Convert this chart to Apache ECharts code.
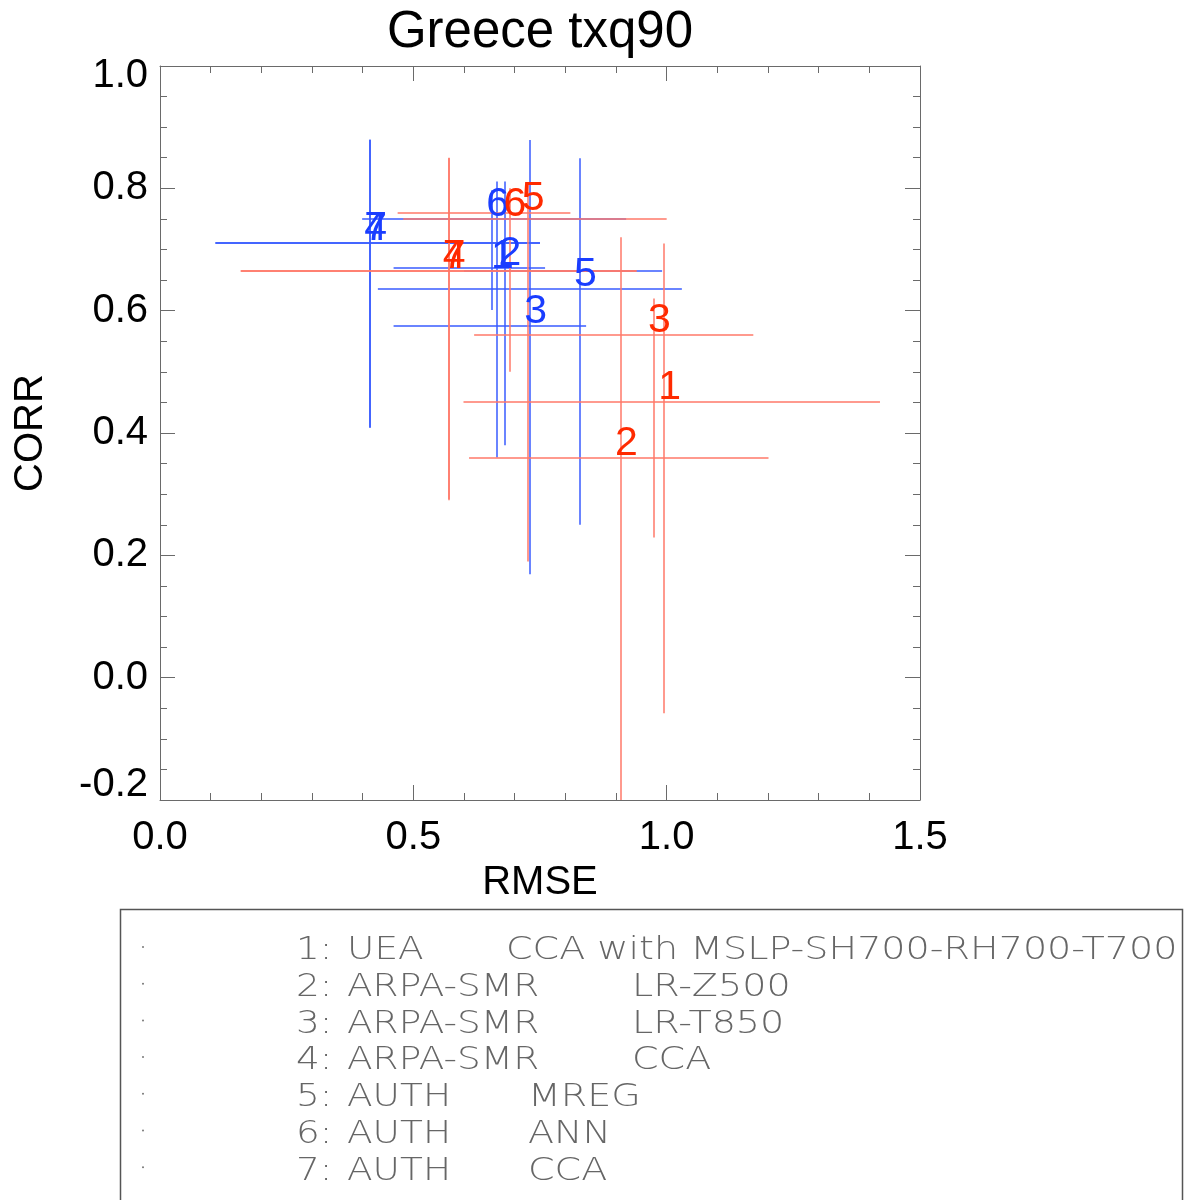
<!DOCTYPE html>
<html>
<head>
<meta charset="utf-8">
<script src="https://cdn.jsdelivr.net/npm/echarts@6/dist/echarts.min.js"></script>
<style>
html,body{margin:0;padding:0;background:#fff;}
#main{width:1189px;height:1200px;}
</style>
</head>
<body>
<div id="main"></div>
<script>
//数据：每个模型的 RMSE / CORR 及其范围
var modelIds = ['1','2','3','4','5','6','7'];
//红色组
var redRmse    = [0.995, 0.910, 0.975, 0.570, 0.726, 0.690, 0.570];
var redCorr    = [0.450, 0.359, 0.560, 0.665, 0.760, 0.750, 0.665];
var redRmseLo  = [0.599, 0.610, 0.620, 0.159, 0.469, 0.480, 0.160];
var redRmseHi  = [1.421, 1.201, 1.171, 0.941, 0.810, 1.000, 0.940];
var redCorrLo  = [-0.058, -0.200, 0.229, 0.290, 0.190, 0.500, 0.292];
var redCorrHi  = [0.710, 0.720, 0.620, 0.849, 0.808, 0.800, 0.850];
//蓝色组
var blueRmse   = [0.665, 0.680, 0.731, 0.415, 0.829, 0.656, 0.415];
var blueCorr   = [0.665, 0.670, 0.575, 0.710, 0.635, 0.750, 0.710];
var blueRmseLo = [0.600, 0.461, 0.461, 0.109, 0.430, 0.399, 0.110];
var blueRmseHi = [0.991, 0.760, 0.841, 0.750, 1.030, 0.920, 0.750];
var blueCorrLo = [0.360, 0.380, 0.169, 0.408, 0.250, 0.601, 0.410];
var blueCorrHi = [0.811, 0.811, 0.879, 0.879, 0.849, 0.797, 0.880];
//图例
var legendInst   = ['UEA', 'ARPA-SMR', 'ARPA-SMR', 'ARPA-SMR', 'AUTH', 'AUTH', 'AUTH'];
var legendMethod = ['CCA with MSLP-SH700-RH700-T700', 'LR-Z500', 'LR-T850', 'CCA', 'MREG', 'ANN', 'CCA'];
var xTicks = [0.0, 0.5, 1.0, 1.5];
var yTicks = [-0.2, 0.0, 0.2, 0.4, 0.6, 0.8, 1.0];

var FONT = '"Liberation Sans", Arial, sans-serif';
var LABEL_FS = 41;

function buildData(x, y, xlo, xhi, ylo, yhi){
	var arr = [];
	for(var i=0;i<x.length;i++){
		arr.push([x[i], y[i], xlo[i], xhi[i], ylo[i], yhi[i], modelIds[i]]);
	}
	return arr;
}

//画十字误差线和编号
function makeRender(lineColor, textColor){
	return function(params, api){
		var p = api.coord([api.value(0), api.value(1)]);
		var l = api.coord([api.value(2), api.value(1)]);
		var r = api.coord([api.value(3), api.value(1)]);
		var t = api.coord([api.value(0), api.value(5)]);
		var b = api.coord([api.value(0), api.value(4)]);
		var px = Math.round(p[0]), py = Math.round(p[1]);
		return {
			type: 'group',
			children: [
				{type:'line', shape:{x1:px, y1:t[1], x2:px, y2:b[1]}, style:{stroke:lineColor, lineWidth:1.5}},
				{type:'line', shape:{x1:l[0], y1:py, x2:r[0], y2:py}, style:{stroke:lineColor, lineWidth:1.5}},
				{type:'text', x:p[0]-6, y:p[1]-0.35*LABEL_FS, z2:10,
					style:{text:String(api.value(6)), fill:textColor, font:LABEL_FS+'px '+FONT, align:'left', verticalAlign:'middle'}}
			]
		};
	};
}

var chart = echarts.init(document.getElementById('main'), null, {renderer:'canvas'});

var axisColor = '#6a6a6a';
function xAxisCfg(pos, showLabel){
	return {
		type:'value', position:pos, min:xTicks[0], max:xTicks[xTicks.length-1], interval:0.5,
		name: showLabel ? 'RMSE' : '', nameLocation:'middle', nameGap:62,
		nameTextStyle:{fontSize:40, color:'#000', fontFamily:FONT},
		axisLine:{show:true, onZero:false, lineStyle:{color:axisColor, width:1}},
		axisTick:{show:true, inside:true, length:15, lineStyle:{color:axisColor}},
		minorTick:{show:true, splitNumber:5, length:7, lineStyle:{color:axisColor}},
		splitLine:{show:false},
		axisLabel:{show:showLabel, margin:18, fontSize:40, color:'#000', fontFamily:FONT,
			formatter:function(v){return v.toFixed(1);}}
	};
}
function yAxisCfg(pos, showLabel){
	var yMin = yTicks[0], yMax = yTicks[yTicks.length-1];
	return {
		type:'value', position:pos, min:yMin, max:yMax, interval:0.2,
		name: showLabel ? 'CORR' : '', nameLocation:'middle', nameGap:109,
		nameTextStyle:{fontSize:40, color:'#000', fontFamily:FONT},
		axisLine:{show:true, onZero:false, lineStyle:{color:axisColor, width:1}},
		axisTick:{show:true, inside:true, length:15, lineStyle:{color:axisColor}},
		minorTick:{show:true, splitNumber:4, length:7, lineStyle:{color:axisColor}},
		splitLine:{show:false},
		axisLabel:{show:showLabel, margin:12, fontSize:40, color:'#000', fontFamily:FONT,
			formatter:function(v){
				var s = v.toFixed(1);
				if(Math.abs(v-yMax)<1e-9) return '{hi|'+s+'}';
				if(Math.abs(v-yMin)<1e-9) return '{lo|'+s+'}';
				return s;
			},
			rich:{
				hi:{fontSize:40, color:'#000', fontFamily:FONT, padding:[19,0,0,0]},
				lo:{fontSize:40, color:'#000', fontFamily:FONT, padding:[0,0,30,0]}
			}}
	};
}

//图例文字
var legendChildren = [];
var methodX = [506, 632, 632, 632, 528, 528, 528];
for(var i=0;i<modelIds.length;i++){
	var yb = 960 + i*36.7;
	var st = {fill:'#666', font:'200 32px "DejaVu Sans", sans-serif', verticalAlign:'bottom'};
	legendChildren.push({type:'circle', shape:{cx:143, cy:yb-13, r:1}, style:{fill:'#777'}});
	legendChildren.push({type:'text', x:296, y:yb+7, scaleX:1.17, style:echarts.util.extend({text:modelIds[i]+':'}, st)});
	legendChildren.push({type:'text', x:347, y:yb+7, scaleX:1.17, style:echarts.util.extend({text:legendInst[i]}, st)});
	legendChildren.push({type:'text', x:methodX[i], y:yb+7, scaleX:1.19, style:echarts.util.extend({text:legendMethod[i]}, st)});
}

var option = {
	backgroundColor:'#fff',
	animation:false,
	title:{text:'Greece txq90', left:535, top:2, textAlign:'center',
		textStyle:{fontSize:51, fontWeight:'normal', color:'#000', fontFamily:FONT}},
	grid:{left:160, top:66, width:760, height:734, containLabel:false},
	xAxis:[xAxisCfg('bottom', true), xAxisCfg('top', false)],
	yAxis:[yAxisCfg('left', true), yAxisCfg('right', false)],
	series:[
		{type:'custom', name:'blue', xAxisIndex:0, yAxisIndex:0, clip:true,
			renderItem:makeRender('#385bff', '#1a3dff'),
			data:buildData(blueRmse, blueCorr, blueRmseLo, blueRmseHi, blueCorrLo, blueCorrHi)},
		{type:'custom', name:'red', xAxisIndex:0, yAxisIndex:0, clip:true,
			renderItem:makeRender('#ff7868', '#ff2a00'),
			data:buildData(redRmse, redCorr, redRmseLo, redRmseHi, redCorrLo, redCorrHi)}
	],
	graphic:[
		{type:'rect', shape:{x:120.5, y:909.5, width:1062, height:400}, style:{fill:'none', stroke:'#555', lineWidth:1.5}},
		{type:'group', children:legendChildren}
	]
};
chart.setOption(option);
</script>
</body>
</html>
